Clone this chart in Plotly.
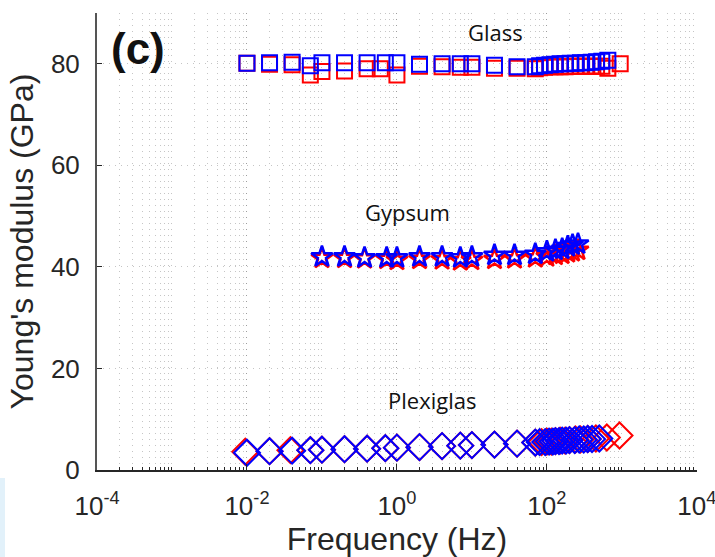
import plotly.graph_objects as go

# ---------------- data ----------------
glass_f_blue = [0.01, 0.02, 0.04, 0.07, 0.1, 0.2, 0.4, 0.7, 1, 2, 4, 7, 10, 20, 40, 70,
                80, 93, 110, 128, 150, 175, 205, 240, 280, 330, 390, 460, 540, 650]
glass_e_blue = [80.1, 80.2, 80.3, 79.6, 80.2, 80.2, 80.2, 80.2, 80.2, 79.9, 80.0, 80.0, 80.0, 79.7, 79.4, 79.4,
                79.6, 79.7, 79.8, 79.9, 80.0, 80.0, 80.1, 80.1, 80.2, 80.2, 80.3, 80.4, 80.5, 80.7]
glass_f_red = [0.01, 0.02, 0.04, 0.07, 0.1, 0.2, 0.4, 0.6, 1, 2, 4, 7, 10, 20, 40, 70,
               80, 93, 110, 128, 150, 175, 205, 240, 280, 330, 390, 460, 540, 650, 950]
glass_e_red = [80.1, 79.9, 79.8, 77.8, 78.5, 78.6, 79.0, 79.0, 77.8, 79.5, 79.4, 79.3, 79.3, 79.1, 79.1, 79.0,
               79.2, 79.3, 79.4, 79.4, 79.4, 79.4, 79.5, 79.5, 79.5, 79.5, 79.5, 79.5, 79.5, 79.1, 80.0]

gyp_f = [0.1, 0.2, 0.37, 0.73, 1, 2, 4, 7, 10, 20, 37, 70, 100, 130, 160, 190, 220, 260]
gyp_e_blue = [42.0, 42.0, 41.8, 41.8, 41.8, 42.0, 42.0, 41.8, 42.0, 42.3, 42.3, 42.5, 43.0, 43.3, 43.5, 44.0, 44.3, 44.5]
gyp_e_red = [41.7, 41.7, 41.6, 41.5, 41.3, 41.5, 41.4, 41.2, 41.3, 41.5, 41.6, 41.8, 42.0, 42.3, 42.5, 42.8, 43.0, 43.3]

plex_f_blue = [0.01, 0.02, 0.04, 0.07, 0.1, 0.2, 0.4, 0.7, 1, 2, 4, 7, 10, 20, 40, 70,
               80, 95, 107, 120, 130, 145, 160, 180, 200, 235, 270, 310, 350, 400, 500]
plex_e_blue = [3.4, 3.7, 3.8, 3.9, 4.0, 4.1, 4.2, 4.3, 4.4, 4.5, 4.7, 4.8, 4.9, 5.0, 5.2, 5.4,
               5.5, 5.5, 5.6, 5.6, 5.7, 5.7, 5.8, 5.8, 5.9, 5.9, 6.0, 6.0, 6.1, 6.1, 6.2]
plex_f_red = [0.0095, 0.02, 0.038, 0.07, 0.1, 0.2, 0.4, 0.7, 1, 2, 4, 7, 10, 20, 40, 70,
              85, 100, 115, 130, 150, 175, 200, 240, 280, 350, 450, 630, 930]
plex_e_red = [3.6, 3.7, 3.9, 3.9, 4.0, 4.1, 4.2, 4.3, 4.4, 4.5, 4.7, 4.8, 4.9, 5.0, 5.2, 5.4,
              5.5, 5.6, 5.6, 5.7, 5.8, 5.8, 5.9, 6.0, 6.0, 6.1, 6.2, 6.4, 6.8]

x_tickvals = [1e-4, 1e-2, 1, 1e2, 1e4]
x_ticktext = ["10<sup>-4</sup>", "10<sup>-2</sup>", "10<sup>0</sup>", "10<sup>2</sup>", "10<sup>4</sup>"]
y_tickvals = [0, 20, 40, 60, 80]

RED = "rgb(255,0,0)"
BLUE = "rgb(0,0,255)"
FONT = "Liberation Sans, Arial, sans-serif"
LABEL_FONT = "Open Sans, Noto Sans, sans-serif"

fig = go.Figure()

def add(fx, ey, color, symbol, size, lw):
    fig.add_trace(go.Scatter(
        x=fx, y=ey, mode="markers", showlegend=False,
        marker=dict(symbol=symbol, size=size, color=color,
                    line=dict(color=color, width=lw)),
        cliponaxis=False))

add(glass_f_red, glass_e_red, RED, "square-open", 15, 2)
add(glass_f_blue, glass_e_blue, BLUE, "square-open", 15, 2)
add(gyp_f, gyp_e_red, RED, "star-open", 16, 2.5)
add(gyp_f, gyp_e_blue, BLUE, "star-open", 16, 2.5)
add(plex_f_red, plex_e_red, RED, "diamond-open", 20, 2)
add(plex_f_blue, plex_e_blue, BLUE, "diamond-open", 20, 2)

grid_dash = "1px,5px"
GRID = "rgba(90,90,90,0.35)"
fig.update_xaxes(
    type="log", range=[-4, 4.002],
    tickvals=x_tickvals, ticktext=x_ticktext,
    ticks="inside", ticklen=6, tickcolor="#262626", tickwidth=1,
    showline=True, linecolor="#262626", linewidth=1.5,
    showgrid=True, gridcolor=GRID, griddash=grid_dash, gridwidth=1,
    minor=dict(ticks="inside", ticklen=3, tickcolor="#262626", showgrid=True,
               gridcolor=GRID, griddash=grid_dash, gridwidth=1,
               dtick="D1"),
    zeroline=False, automargin=False,
    ticklabeloverflow="allow",
    tickfont=dict(family=FONT, size=26, color="#262626"),
    ticklabelstandoff=12,
    title=dict(text="Frequency (Hz)", font=dict(family=FONT, size=32, color="#262626"), standoff=4),
)
fig.update_yaxes(
    range=[0, 90], tickvals=y_tickvals,
    ticks="inside", ticklen=5, tickcolor="#262626",
    showline=True, linecolor="#555555", linewidth=2,
    showgrid=True, gridcolor=GRID, griddash=grid_dash, gridwidth=1,
    zeroline=False, automargin=False,
    tickfont=dict(family=FONT, size=26, color="#262626"),
    ticklabelstandoff=10,
    title=dict(text="Young's modulus (GPa)", font=dict(family=FONT, size=32, color="#262626"), standoff=8),
)

annos = [
    dict(x=1.31, y=86.3, text="Glass"),
    dict(x=0.14, y=50.8, text="Gypsum"),
    dict(x=0.47, y=13.8, text="Plexiglas"),
]
for a in annos:
    fig.add_annotation(x=a["x"], y=a["y"], text=a["text"], showarrow=False,
                       xref="x", yref="y",
                       font=dict(family=LABEL_FONT, size=22, color="#111111"))
fig.add_annotation(x=-3.45, y=83.0, text="<b>(c)</b>", showarrow=False, xref="x", yref="y",
                   font=dict(family=FONT, size=44, color="#111111"))

# faint light-blue strip at the lower-left page edge
fig.add_shape(type="rect", xref="paper", yref="paper",
              x0=-97/600, x1=-92/600, y0=-87/456, y1=-8/456,
              line=dict(width=0), fillcolor="rgba(190,225,245,0.45)", layer="below")

fig.update_layout(
    width=715, height=557, autosize=False,
    margin=dict(l=97, r=18, t=13, b=87),
    plot_bgcolor="white", paper_bgcolor="white",
    showlegend=False,
)

fig.write_html("out.html")
